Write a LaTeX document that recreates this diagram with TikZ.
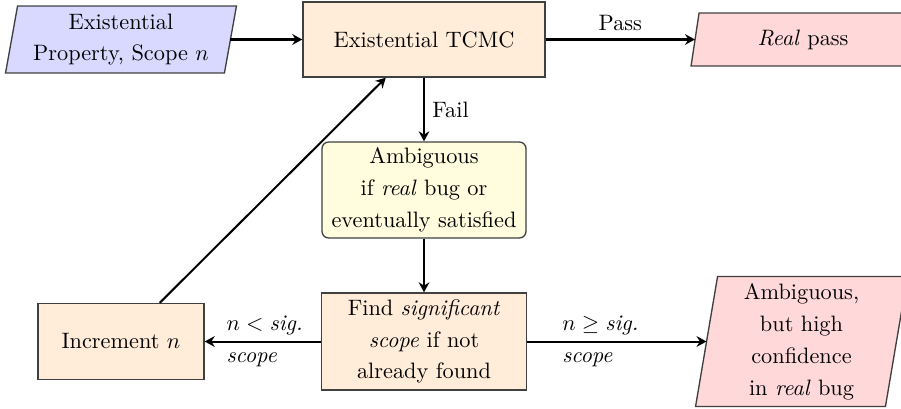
\documentclass[tikz,border=0pt]{standalone}
\usetikzlibrary{arrows.meta,backgrounds}
\def\PX{0.4484pt}
\begin{document}
\begin{tikzpicture}[x=0.4484pt,y=-0.4484pt,
  txt/.style={font=\fontsize{10pt}{14.3pt}\selectfont},
  box/.style={txt, draw=black!75, line width=0.6pt, align=center, inner sep=2pt},
  procbox/.style={box, rectangle, fill=orange!15},
  iotext/.style={txt, rectangle, align=center, inner sep=2pt},
  shapeline/.style={draw=black!75, line width=0.6pt},
  notebox/.style={box, rectangle, rounded corners=3pt, fill=yellow!13},
  arr/.style={-{Stealth[length=4.5pt,width=4.8pt,inset=1.5pt]}, line width=0.9pt},
  elabel/.style={txt, inner sep=0pt, align=left}
]
\useasboundingbox (0,0) rectangle (901,408);

% parallelogram text nodes (their rectangle = mid-height width of the slanted box)
\node[iotext, minimum width=218*\PX, minimum height=66*\PX] (in) at (121,39.5) {Existential\\Property, Scope $n$};
\node[iotext, minimum width=215*\PX, minimum height=52*\PX] (pass) at (803,39.5) {\textit{Real} pass};
\node[iotext, minimum width=189*\PX, minimum height=129*\PX] (conf) at (801.5,341.5) {Ambiguous,\\but high\\confidence\\in \textit{real} bug};

\begin{pgfonlayer}{background}
\path[shapeline, fill=blue!15]
  ([xshift=-6*\PX]in.south west) -- ([xshift=6*\PX]in.north west) --
  ([xshift=6*\PX]in.north east) -- ([xshift=-6*\PX]in.south east) -- cycle;
\path[shapeline, fill=red!15]
  ([xshift=-4*\PX]pass.south west) -- ([xshift=4*\PX]pass.north west) --
  ([xshift=4*\PX]pass.north east) -- ([xshift=-4*\PX]pass.south east) -- cycle;
\path[shapeline, fill=red!15]
  ([xshift=-11*\PX]conf.south west) -- ([xshift=11*\PX]conf.north west) --
  ([xshift=11*\PX]conf.north east) -- ([xshift=-11*\PX]conf.south east) -- cycle;
\end{pgfonlayer}

\node[procbox, minimum width=242*\PX, minimum height=75*\PX] (tcmc) at (424,39.5) {Existential TCMC};
\node[notebox, minimum width=204*\PX, minimum height=96*\PX] (amb) at (424,190) {Ambiguous\\if \textit{real} bug or\\eventually satisfied};
\node[procbox, minimum width=205*\PX, minimum height=97*\PX] (find) at (424,341.5) {Find \textit{significant}\\\textit{scope} if not\\already found};
\node[procbox, minimum width=166*\PX, minimum height=76*\PX] (inc) at (121,341.5) {Increment $n$};

\draw[arr] (in) -- (tcmc);
\draw[arr] (tcmc) -- node[txt, above] {Pass} (pass);
\draw[arr] (tcmc) -- node[txt, right] {Fail} (amb);
\draw[arr] (amb) -- (find);
\draw[arr] (find) -- node[elabel, pos=0.82, anchor=west] {$n < \textit{sig.}$\\\textit{scope}} (inc);
\draw[arr] (find) -- node[elabel, pos=0.19, anchor=west] {$n \geq \textit{sig.}$\\\textit{scope}} (conf);
\draw[arr] (inc) -- (tcmc);
\end{tikzpicture}
\end{document}
